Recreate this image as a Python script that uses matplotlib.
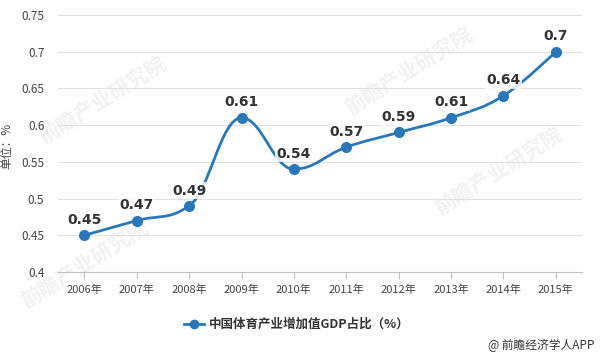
import numpy as np
import matplotlib.pyplot as plt
from matplotlib.path import Path
from matplotlib.patches import PathPatch
from matplotlib.lines import Line2D

plt.rcParams['font.family'] = ['Noto Sans CJK SC', 'DejaVu Sans']

years = ['2006年', '2007年', '2008年', '2009年', '2010年',
         '2011年', '2012年', '2013年', '2014年', '2015年']
share = [0.45, 0.47, 0.49, 0.61, 0.54, 0.57, 0.59, 0.61, 0.64, 0.70]
labels = ['0.45', '0.47', '0.49', '0.61', '0.54', '0.57', '0.59', '0.61', '0.64', '0.7']
yticks = [0.4, 0.45, 0.5, 0.55, 0.6, 0.65, 0.7, 0.75]
ytick_labels = ['0.4', '0.45', '0.5', '0.55', '0.6', '0.65', '0.7', '0.75']
series_name = '中国体育产业增加值GDP占比（%）'

blue = '#2a78b9'


def spline_path(xs, ys, smoothing=1.5):
    # highcharts-style spline: bezier control points per point
    n = len(xs)
    verts = [(xs[0], ys[0])]
    codes = [Path.MOVETO]
    right_prev = (xs[0], ys[0])
    for i in range(1, n):
        x, y = xs[i], ys[i]
        lx, ly = xs[i - 1], ys[i - 1]
        if i < n - 1:
            nx, ny = xs[i + 1], ys[i + 1]
            d = smoothing + 1
            lcx = (smoothing * x + lx) / d
            lcy = (smoothing * y + ly) / d
            rcx = (smoothing * x + nx) / d
            rcy = (smoothing * y + ny) / d
            corr = (rcy - lcy) * (rcx - x) / (rcx - lcx) + y - rcy
            lcy += corr
            rcy += corr
            if lcy > ly and lcy > y:
                lcy = max(ly, y)
                rcy = 2 * y - lcy
            elif lcy < ly and lcy < y:
                lcy = min(ly, y)
                rcy = 2 * y - lcy
            if rcy > ny and rcy > y:
                rcy = max(ny, y)
                lcy = 2 * y - rcy
            elif rcy < ny and rcy < y:
                rcy = min(ny, y)
                lcy = 2 * y - rcy
            left = (lcx, lcy)
            right = (rcx, rcy)
        else:
            left = (x, y)
            right = (x, y)
        verts += [right_prev, left, (x, y)]
        codes += [Path.CURVE4] * 3
        right_prev = right
    return Path(verts, codes)


fig = plt.figure(figsize=(6, 3.56), dpi=100)
ax = fig.add_axes([0.097, 0.236, 0.873, 0.722])

# faint watermarks
wm = '前瞻产业研究院'
for (wx, wy) in [(0.17, 0.72), (0.68, 0.80), (0.14, 0.26), (0.83, 0.52)]:
    fig.text(wx, wy, wm, fontsize=15, color='#f1f1f1', rotation=32,
             ha='center', va='center', fontweight='bold', zorder=-1)

x = np.arange(len(years))
ax.add_patch(PathPatch(spline_path(list(x), share), facecolor='none',
                       edgecolor=blue, lw=2, zorder=3))
ax.plot(x, share, 'o', color=blue, ms=7, zorder=4)

for xi, yi, lab in zip(x, share, labels):
    ax.annotate(lab, (xi, yi), xytext=(0, 6), textcoords='offset points',
                ha='center', va='bottom', fontsize=10, fontweight='bold',
                family='DejaVu Sans', color='#333333', zorder=5,
                bbox=dict(boxstyle='square,pad=0.1', fc='white', ec='none', alpha=0.8))

ax.set_xlim(-0.5, len(years) - 0.5)
ax.set_ylim(0.4, 0.75)
ax.set_xticks(x)
ax.set_xticklabels(years, fontsize=8, color='#444444')
ax.set_yticks(yticks)
ax.set_yticklabels(ytick_labels, fontsize=8.5, color='#444444')
ax.grid(axis='y', color='#e0e0e0', lw=0.8)
ax.set_axisbelow(True)
for s in ['top', 'right', 'left']:
    ax.spines[s].set_visible(False)
ax.spines['bottom'].set_color('#c0c0c0')
ax.tick_params(axis='y', length=0, pad=10)
ax.tick_params(axis='x', length=5, color='#c0c0c0', pad=4)
ax.patch.set_alpha(0)
ax.set_ylabel('单位：%', fontsize=8.5, color='#444444')
ax.yaxis.set_label_coords(-0.085, 0.49)

handle = Line2D([], [], color=blue, lw=2, marker='o', ms=6)
fig.legend([handle], [series_name], loc='center', bbox_to_anchor=(0.495, 0.088),
           frameon=False, handlelength=1.6, handletextpad=0.4,
           prop={'size': 9, 'weight': 'bold'}, labelcolor='#333333')

fig.text(0.99, 0.03, '@ 前瞻经济学人APP', fontsize=8.5, color='#333333',
         ha='right', va='center')

fig.savefig('out.png', dpi=100)
